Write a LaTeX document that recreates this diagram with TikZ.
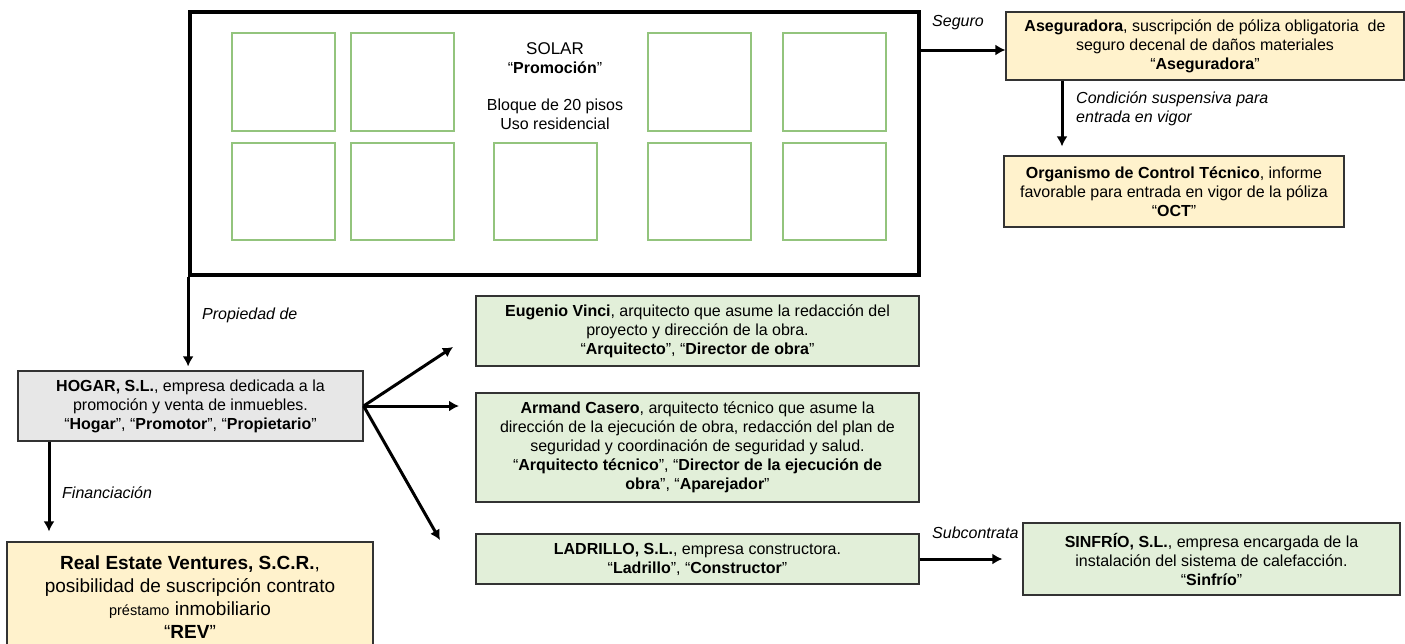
\documentclass[tikz,border=0pt]{standalone}
\usepackage{fontspec}
\setmainfont{Liberation Sans}
\usetikzlibrary{arrows.meta}

\definecolor{polizayellow}{HTML}{FFF2CC}
\definecolor{agentgreen}{HTML}{E2EFD9}
\definecolor{ownergray}{HTML}{E7E7E7}
\definecolor{winborder}{HTML}{93C47D}

\begin{document}
\begin{tikzpicture}[x=1pt,y=-1pt,
  box/.style={draw=black!80, line width=1.2pt, align=center, inner sep=0pt, font=\fontsize{16}{19}\selectfont},
  yellowbox/.style={box, fill=polizayellow},
  greenbox/.style={box, fill=agentgreen},
  graybox/.style={box, fill=ownergray},
  rel/.style={line width=3pt, -{Latex[length=10pt,width=11pt]}},
  lbl/.style={font=\fontsize{16}{19}\selectfont\itshape, inner sep=0pt},
  win/.style={draw=winborder, line width=1.4pt}]
\useasboundingbox (0,0) rectangle (1405,643);

% solar with the block
\node[draw, line width=3.8pt, minimum width=729pt, minimum height=263pt] (solar) at (554.5,143.5) {};
\foreach \x in {232,351,648,783}{
  \draw[win] (\x,33) rectangle ++(103,98);
  \draw[win] (\x,143) rectangle ++(103,97);
}
\draw[win] (494,143) rectangle ++(103,97);
\node[font=\fontsize{16}{19}\selectfont, align=center] (solarlbl) at (555,86)
  {{\fontsize{17}{19}\selectfont SOLAR}\\“\textbf{Promoción}”\\[18pt]Bloque de 20 pisos\\Uso residencial};

% insurance side
\node[yellowbox, minimum width=398pt, minimum height=68pt] (aseg) at (1205,46)
  {\textbf{Aseguradora}, suscripción de póliza obligatoria\ \ de\\seguro decenal de daños materiales\\“\textbf{Aseguradora}”};
\node[yellowbox, minimum width=340pt, minimum height=71pt] (oct) at (1174,191.5)
  {\textbf{Organismo de Control Técnico}, informe\\favorable para entrada en vigor de la póliza\\“\textbf{OCT}”};

% owner and finance
\node[graybox, minimum width=345pt, minimum height=70pt] (hogar) at (190.5,406)
  {\textbf{HOGAR, S.L.}, empresa dedicada a la\\promoción y venta de inmuebles.\\“\textbf{Hogar}”, “\textbf{Promotor}”, “\textbf{Propietario}”};
\node[yellowbox, minimum width=366pt, minimum height=110pt, font=\fontsize{19}{23}\selectfont] (rev) at (190,597)
  {\textbf{Real Estate Ventures, S.C.R.},\\posibilidad de suscripción contrato\\{\fontsize{14.5}{23}\selectfont préstamo} inmobiliario\\“\textbf{REV}”};

% agents
\node[greenbox, minimum width=443pt, minimum height=70pt] (arq) at (697.5,331)
  {\textbf{Eugenio Vinci}, arquitecto que asume la redacción del\\proyecto y dirección de la obra.\\“\textbf{Arquitecto}”, “\textbf{Director de obra}”};
\node[greenbox, minimum width=443pt, minimum height=109pt] (arqtec) at (697.5,447.5)
  {\textbf{Armand Casero}, arquitecto técnico que asume la\\dirección de la ejecución de obra, redacción del plan de\\seguridad y coordinación de seguridad y salud.\\“\textbf{Arquitecto técnico}”, “\textbf{Director de la ejecución de}\\\textbf{obra}”, “\textbf{Aparejador}”};
\node[greenbox, minimum width=443pt, minimum height=50pt] (ladrillo) at (697.5,559)
  {\textbf{LADRILLO, S.L.}, empresa constructora.\\“\textbf{Ladrillo}”, “\textbf{Constructor}”};
\node[greenbox, minimum width=377pt, minimum height=72pt] (sinfrio) at (1211.5,559)
  {\textbf{SINFRÍO, S.L.}, empresa encargada de la\\instalación del sistema de calefacción.\\“\textbf{Sinfrío}”};

% relations
\coordinate (segin) at ([yshift=-4pt]aseg.west);
\draw[rel] (segin -| solar.east) -- (segin);
\node[lbl, anchor=west] (seglbl) at (932,23) {Seguro};

\coordinate (condx) at (1062,0);
\draw[rel, shorten >=9pt] (aseg.south -| condx) -- (oct.north -| condx);
\node[lbl, anchor=west, align=left] (condlbl) at (1076,109) {Condición suspensiva para\\entrada en vigor};

\draw[rel, shorten >=4pt] (solar.south west) -- (solar.south west |- hogar.north);
\node[lbl, anchor=west] (proplbl) at (202,315) {Propiedad de};

\coordinate (finx) at (49,0);
\draw[rel, shorten >=10pt] (hogar.south -| finx) -- (rev.north -| finx);
\node[lbl, anchor=west] (finlbl) at (62,493) {Financiación};

\coordinate (toarq) at (453,347);
\coordinate (toarqtec) at (459,406);
\coordinate (tocons) at (440,540);
\foreach \t in {toarq,toarqtec,tocons}
  \draw[rel] (hogar.east) -- (\t);

\draw[rel, shorten >=20pt] (ladrillo.east) -- (sinfrio.west);
\node[lbl, anchor=west] (sublbl) at (932,533) {Subcontrata};
\end{tikzpicture}
\end{document}
